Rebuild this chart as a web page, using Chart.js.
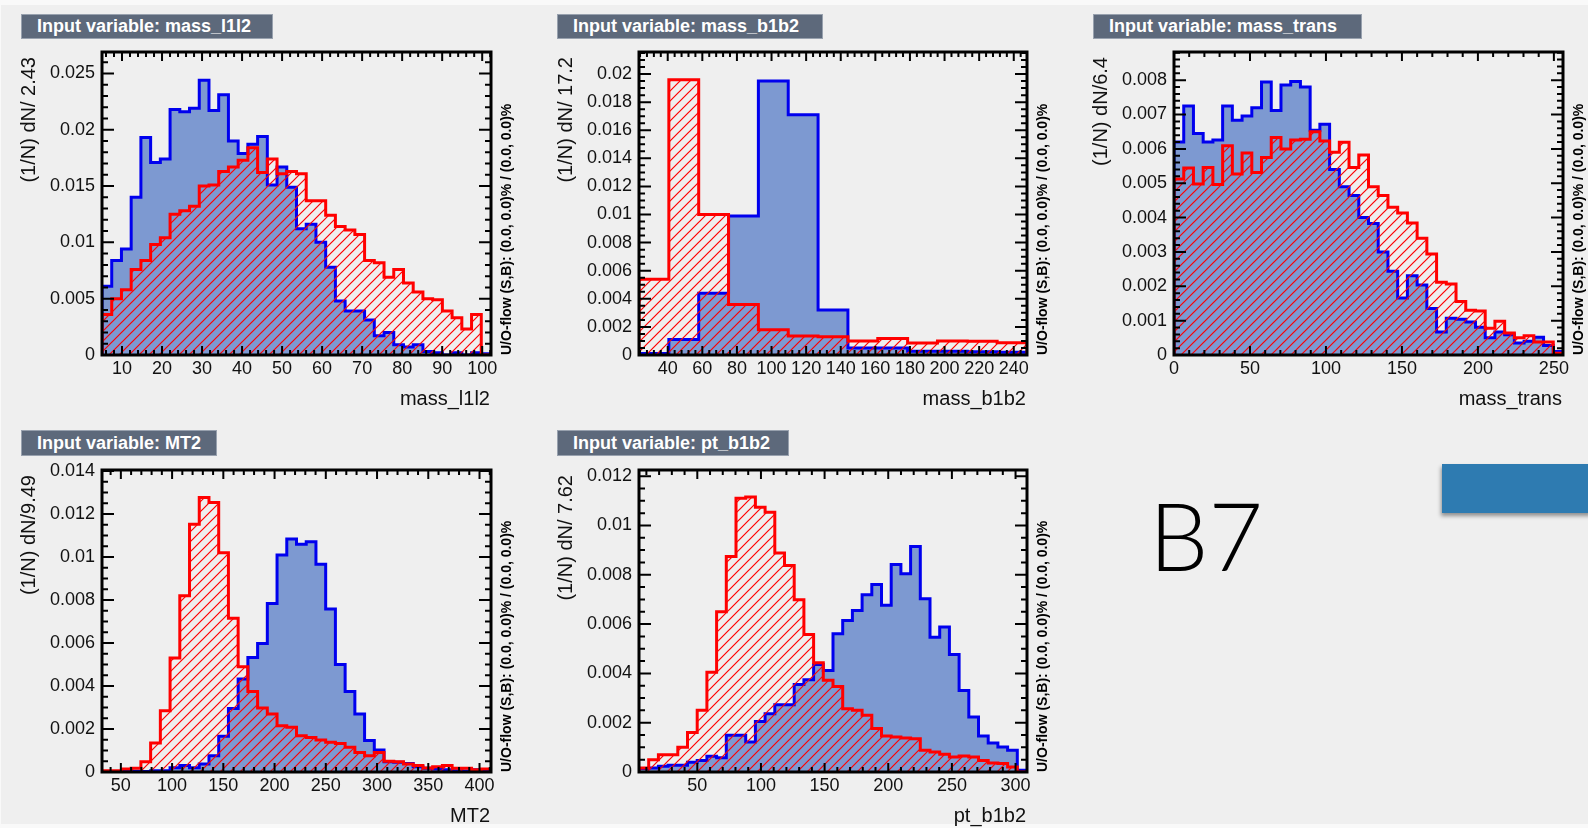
<!DOCTYPE html>
<html>
<head>
<meta charset="utf-8">
<script src="https://cdn.jsdelivr.net/npm/chart.js@4.4.0/dist/chart.umd.min.js"></script>
<style>
  html, body { margin: 0; padding: 0; width: 1588px; height: 828px; overflow: hidden; background: #f9f9f9; }
  #page { position: absolute; left: 1px; top: 5px; width: 1587px; height: 819px; background: #efefef; }
  canvas { position: absolute; }
  .box { position: absolute; box-sizing: border-box; background: #5d697b; border: 1px solid #98a1ae;
         color: #fff; font: bold 18px 'Liberation Sans', Arial, sans-serif; padding-left: 15px; white-space: nowrap; }
  .xt { position: absolute; width: 300px; text-align: right; font: 20px 'Liberation Sans', Arial, sans-serif;
        height: 24px; line-height: 24px; color: #111; white-space: nowrap; }
  .yt { position: absolute; width: 300px; text-align: right; font: 20px 'Liberation Sans', Arial, sans-serif;
        height: 24px; line-height: 24px; color: #111; white-space: nowrap; transform-origin: 0 0; transform: rotate(-90deg); }
  .uo { position: absolute; font: bold 14px 'Liberation Sans', Arial, sans-serif; height: 16px; line-height: 16px;
        color: #000; white-space: nowrap; transform-origin: 0 0; transform: rotate(-90deg); }
  #b7 { position: absolute; left: 1149px; top: 488px; font: 300 94px Lato, 'Open Sans', sans-serif; line-height: 94px; color: #000; }
  #tab { position: absolute; left: 1442px; top: 464px; width: 150px; height: 49px; background: #2e7bb1;
         box-shadow: -1px 3px 4px rgba(0,0,0,0.4); }
</style>
</head>
<body>
<div id="page"></div>
<div id="b7">B7</div>
<div id="tab"></div>
<script>
// ---- mass_l1l2 ----
const l1l2Bins = [5.0, 2.43]; // first edge, bin width
const l1l2Sig = [0.0061, 0.0084, 0.0094, 0.0140, 0.0193, 0.0171, 0.0174, 0.0218, 0.0216, 0.0219,
                 0.0244, 0.0217, 0.0231, 0.0190, 0.0179, 0.0187, 0.0194, 0.0151, 0.0167, 0.0149,
                 0.0112, 0.0116, 0.0100, 0.0078, 0.0048, 0.0039, 0.0039, 0.0031, 0.0017, 0.0020,
                 0.0009, 0.0007, 0.0009, 0.0003, 0.0002, 0.0000, 0.0002, 0.0000, 0.0002, 0.0001];
const l1l2Bkg = [0.0036, 0.0050, 0.0058, 0.0076, 0.0084, 0.0098, 0.0104, 0.0125, 0.0128, 0.0132,
                 0.0150, 0.0151, 0.0163, 0.0167, 0.0173, 0.0184, 0.0162, 0.0174, 0.0161, 0.0163,
                 0.0161, 0.0137, 0.0137, 0.0124, 0.0114, 0.0111, 0.0107, 0.0084, 0.0082, 0.0069,
                 0.0076, 0.0064, 0.0056, 0.0050, 0.0049, 0.0039, 0.0033, 0.0023, 0.0036, 0.0000];
const l1l2XTicks = [10, 20, 30, 40, 50, 60, 70, 80, 90, 100];
const l1l2YTicks = [0, 0.005, 0.01, 0.015, 0.02, 0.025];

// ---- mass_b1b2 ----
const b1b2Bins = [23.4, 17.25];
const b1b2Sig = [0.0001, 0.0011, 0.0044, 0.0099, 0.0195, 0.0171, 0.0032, 0.0005, 0.0005, 0.00026, 0.00026, 0.00024, 0.0002];
const b1b2Bkg = [0.0054, 0.0196, 0.0100, 0.0036, 0.0018, 0.00136, 0.0013, 0.0010, 0.00117, 0.00086, 0.0010, 0.00098, 0.00088];
const b1b2XTicks = [40, 60, 80, 100, 120, 140, 160, 180, 200, 220, 240];
const b1b2YTicks = [0, 0.002, 0.004, 0.006, 0.008, 0.01, 0.012, 0.014, 0.016, 0.018, 0.02];

// ---- mass_trans ----
const transBins = [0, 6.4];
const transSig = [0.0062, 0.00725, 0.00645, 0.0062, 0.00626, 0.00725, 0.00683, 0.00696, 0.0072, 0.00795,
                  0.00712, 0.00786, 0.00796, 0.0078, 0.00654, 0.00672, 0.0054, 0.0049, 0.00464, 0.0040,
                  0.00383, 0.0030, 0.00244, 0.00166, 0.00231, 0.00204, 0.00135, 0.00067, 0.00107, 0.00104,
                  0.00096, 0.00081, 0.0005, 0.00067, 0.00059, 0.00035, 0.0004, 0.00052, 0.00028, 0.0001];
const transBkg = [0.00512, 0.00544, 0.00498, 0.00546, 0.00496, 0.00609, 0.00527, 0.00588, 0.00531, 0.00575,
                  0.00633, 0.006, 0.00626, 0.00628, 0.0065, 0.00623, 0.0059, 0.00619, 0.00546, 0.00582,
                  0.0049, 0.00464, 0.0043, 0.00413, 0.00384, 0.0034, 0.00294, 0.00212, 0.00207, 0.00156,
                  0.0013, 0.00128, 0.00078, 0.00098, 0.00064, 0.0005, 0.00056, 0.00038, 0.00038, 0.00005];
const transXTicks = [0, 50, 100, 150, 200, 250];
const transYTicks = [0, 0.001, 0.002, 0.003, 0.004, 0.005, 0.006, 0.007, 0.008];

// ---- MT2 ----
const mt2Bins = [31.6, 9.49];
const mt2Sig = [0.00002, 0.00002, 0.00003, 0.00003, 0.00002, 0.00006, 0.00006, 0.0002, 0.0003, 0.0002,
                0.00037, 0.00076, 0.00166, 0.00296, 0.00433, 0.00533, 0.00598, 0.00784, 0.0101, 0.01084,
                0.0106, 0.01071, 0.00967, 0.00758, 0.005, 0.00375, 0.0027, 0.00146, 0.00102, 0.00048,
                0.00045, 0.0004, 0.00025, 0.00017, 0.00014, 0.0001, 0.00006, 0.00005, 0.0001, 0.00006];
const mt2Bkg = [0.00006, 0.00006, 0.00014, 0.00018, 0.00048, 0.00135, 0.00285, 0.0053, 0.0082, 0.01153,
                0.01277, 0.01254, 0.0102, 0.00715, 0.0049, 0.00375, 0.00298, 0.0027, 0.00215, 0.00208,
                0.00169, 0.00161, 0.00149, 0.00138, 0.00133, 0.00115, 0.00091, 0.00076, 0.00091, 0.0005,
                0.00048, 0.00037, 0.0003, 0.00019, 0.00025, 0.0003, 0.00017, 0.00017, 0.0001, 0.00014];
const mt2XTicks = [50, 100, 150, 200, 250, 300, 350, 400];
const mt2YTicks = [0, 0.002, 0.004, 0.006, 0.008, 0.01, 0.012, 0.014];

// ---- pt_b1b2 ----
const ptBins = [4.2, 7.62];
const ptSig = [0.00014, 0.00016, 0.00023, 0.00027, 0.00027, 0.0004, 0.00047, 0.00064, 0.00058, 0.00149,
               0.00149, 0.00122, 0.00205, 0.00236, 0.00273, 0.00273, 0.00355, 0.00374, 0.00436, 0.00412,
               0.00561, 0.00615, 0.00655, 0.00719, 0.00761, 0.00676, 0.00842, 0.00804, 0.00915, 0.00703,
               0.00547, 0.00588, 0.00477, 0.00331, 0.00223, 0.00146, 0.00118, 0.00101, 0.00088, 0.00007];
const ptBkg = [0.00016, 0.0005, 0.0007, 0.0007, 0.001, 0.0016, 0.0025, 0.00405, 0.0065, 0.00874,
               0.0111, 0.01115, 0.01074, 0.01054, 0.00888, 0.00838, 0.00699, 0.00558, 0.00443, 0.00372,
               0.00347, 0.00257, 0.0025, 0.0023, 0.00176, 0.00146, 0.00142, 0.00138, 0.00135, 0.00088,
               0.00081, 0.00072, 0.00061, 0.00065, 0.00061, 0.00047, 0.00036, 0.00034, 0.0002, 0];
const ptXTicks = [50, 100, 150, 200, 250, 300];
const ptYTicks = [0, 0.002, 0.004, 0.006, 0.008, 0.01, 0.012];

const flowText = 'U/O-flow (S,B): (0.0, 0.0)% / (0.0, 0.0)%';

// layout: frame = [left, top, right, bottom] of the plot frame in page pixels
const panels = [
  { name: 'mass_l1l2', yTitle: '(1/N) dN/ 2.43', sig: l1l2Sig, bkg: l1l2Bkg, bins: l1l2Bins,
    xTicks: l1l2XTicks, yTicks: l1l2YTicks, yMax: 0.0269, xMinor: 2, yMinor: 0.001,
    frame: [102, 52, 491, 355], box: [21, 14, 252, 25] },
  { name: 'mass_b1b2', yTitle: '(1/N) dN/ 17.2', sig: b1b2Sig, bkg: b1b2Bkg, bins: b1b2Bins,
    xTicks: b1b2XTicks, yTicks: b1b2YTicks, yMax: 0.02157, xMinor: 4, yMinor: 0.0005,
    frame: [639, 52, 1027, 355], box: [557, 14, 266, 25] },
  { name: 'mass_trans', yTitle: '(1/N) dN/6.4', sig: transSig, bkg: transBkg, bins: transBins,
    xTicks: transXTicks, yTicks: transYTicks, yMax: 0.00882, xMinor: 10, yMinor: 0.0002,
    frame: [1174, 52, 1563, 355], box: [1093, 14, 269, 25] },
  { name: 'MT2', yTitle: '(1/N) dN/9.49', sig: mt2Sig, bkg: mt2Bkg, bins: mt2Bins,
    xTicks: mt2XTicks, yTicks: mt2YTicks, yMax: 0.01405, xMinor: 10, yMinor: 0.0005,
    frame: [102, 470, 491, 772], box: [21, 430, 196, 26] },
  { name: 'pt_b1b2', yTitle: '(1/N) dN/ 7.62', sig: ptSig, bkg: ptBkg, bins: ptBins,
    xTicks: ptXTicks, yTicks: ptYTicks, yMax: 0.01225, xMinor: 10, yMinor: 0.0005,
    frame: [639, 470, 1027, 772], box: [557, 430, 232, 26] }
];

Chart.defaults.font.family = "'Liberation Sans', Arial, sans-serif";
Chart.defaults.font.size = 18;
Chart.defaults.color = '#111';

// step outline of a histogram: each point is a bin's left edge (stepped 'before'),
// closed down to zero at both ends
function steps(bins, vals) {
  const [first, width] = bins;
  const pts = [{ x: first, y: 0 }];
  vals.forEach((v, i) => pts.push({ x: first + i * width, y: v }));
  pts.push({ x: first + vals.length * width, y: 0 });
  return pts;
}

function hatch() {
  const c = document.createElement('canvas');
  c.width = c.height = 10;
  const g = c.getContext('2d');
  g.strokeStyle = '#ff0000';
  g.lineWidth = 1.2;
  g.beginPath();
  g.moveTo(-1, 11); g.lineTo(11, -1);
  g.moveTo(-1, 1); g.lineTo(1, -1);
  g.moveTo(9, 11); g.lineTo(11, 9);
  g.stroke();
  return g.createPattern(c, 'repeat');
}

// ROOT style frame with inner ticks on all four sides
const rootFrame = {
  id: 'rootFrame',
  afterDatasetsDraw(chart, args, o) {
    const { ctx, chartArea: a, scales: { x, y } } = chart;
    const marks = (scale, minor, majors) => {
      const out = [];
      const k0 = Math.ceil(scale.min / minor - 1e-6), k1 = Math.floor(scale.max / minor + 1e-6);
      for (let k = k0; k <= k1; k++) {
        const v = k * minor;
        out.push([scale.getPixelForValue(v), majors.some(m => Math.abs(m - v) < minor * 1e-3)]);
      }
      return out;
    };
    ctx.save();
    ctx.strokeStyle = '#000';
    ctx.lineWidth = 2;
    ctx.beginPath();
    for (const [px, big] of marks(x, o.xMinor, o.xMajor)) {
      const len = big ? 9 : 5;
      ctx.moveTo(px, a.bottom); ctx.lineTo(px, a.bottom - len);
      ctx.moveTo(px, a.top); ctx.lineTo(px, a.top + len);
    }
    for (const [py, big] of marks(y, o.yMinor, o.yMajor)) {
      const len = big ? 12 : 6;
      ctx.moveTo(a.left, py); ctx.lineTo(a.left + len, py);
      ctx.moveTo(a.right, py); ctx.lineTo(a.right - len, py);
    }
    ctx.stroke();
    ctx.lineWidth = 3;
    ctx.strokeRect(a.left, a.top, a.right - a.left, a.bottom - a.top);
    ctx.restore();
  }
};

function addDiv(cls, text, style) {
  const d = document.createElement('div');
  d.className = cls;
  d.textContent = text;
  Object.assign(d.style, style);
  document.body.appendChild(d);
}

panels.forEach(p => {
  const [L, T, R, B] = p.frame;
  const w = R - L + 130, h = B - T + 80;
  const cv = document.createElement('canvas');
  cv.width = w; cv.height = h;
  Object.assign(cv.style, { left: (L - 90) + 'px', top: (T - 20) + 'px', width: w + 'px', height: h + 'px' });
  document.body.appendChild(cv);

  const xMin = p.bins[0], xMax = p.bins[0] + p.sig.length * p.bins[1];
  new Chart(cv, {
    type: 'line',
    data: {
      datasets: [
        { data: steps(p.bins, p.bkg), stepped: 'before', borderColor: '#ff0000', backgroundColor: hatch(),
          fill: 'origin', order: 1 },
        { data: steps(p.bins, p.sig), stepped: 'before', borderColor: '#0000ee', backgroundColor: '#7d99d1',
          fill: 'origin', order: 2 }
      ]
    },
    options: {
      animation: false, responsive: false, devicePixelRatio: 1,
      layout: { padding: { left: 0, top: 20, right: 40, bottom: 0 } },
      elements: {
        line: { borderWidth: 3, tension: 0, borderJoinStyle: 'miter', borderCapStyle: 'butt' },
        point: { radius: 0 }
      },
      plugins: {
        legend: { display: false }, tooltip: { enabled: false },
        rootFrame: { xMinor: p.xMinor, yMinor: p.yMinor, xMajor: p.xTicks, yMajor: p.yTicks }
      },
      scales: {
        x: {
          type: 'linear', min: xMin, max: xMax,
          grid: { display: false, drawTicks: false }, border: { display: false },
          ticks: { autoSkip: false, maxRotation: 0, minRotation: 0, padding: 3, callback: v => String(v) },
          afterBuildTicks: s => { s.ticks = p.xTicks.map(v => ({ value: v })); },
          afterFit: s => { s.height = 60; }
        },
        y: {
          type: 'linear', min: 0, max: p.yMax,
          grid: { display: false, drawTicks: false }, border: { display: false },
          ticks: { autoSkip: false, padding: 7, callback: v => String(v) },
          afterBuildTicks: s => { s.ticks = p.yTicks.map(v => ({ value: v })); },
          afterFit: s => { s.width = 90; }
        }
      }
    },
    plugins: [rootFrame]
  });

  const [bx, by, bw, bh] = p.box;
  addDiv('box', 'Input variable: ' + p.name,
    { left: bx + 'px', top: by + 'px', width: bw + 'px', height: bh + 'px', lineHeight: (bh - 2) + 'px' });
  addDiv('xt', p.name, { left: (R - 301) + 'px', top: (B + 31) + 'px' });
  addDiv('yt', p.yTitle, { left: (L - 86) + 'px', top: (T + 305) + 'px' });
  addDiv('uo', flowText, { left: (R + 7) + 'px', top: B + 'px' });
});
</script>
</body>
</html>
